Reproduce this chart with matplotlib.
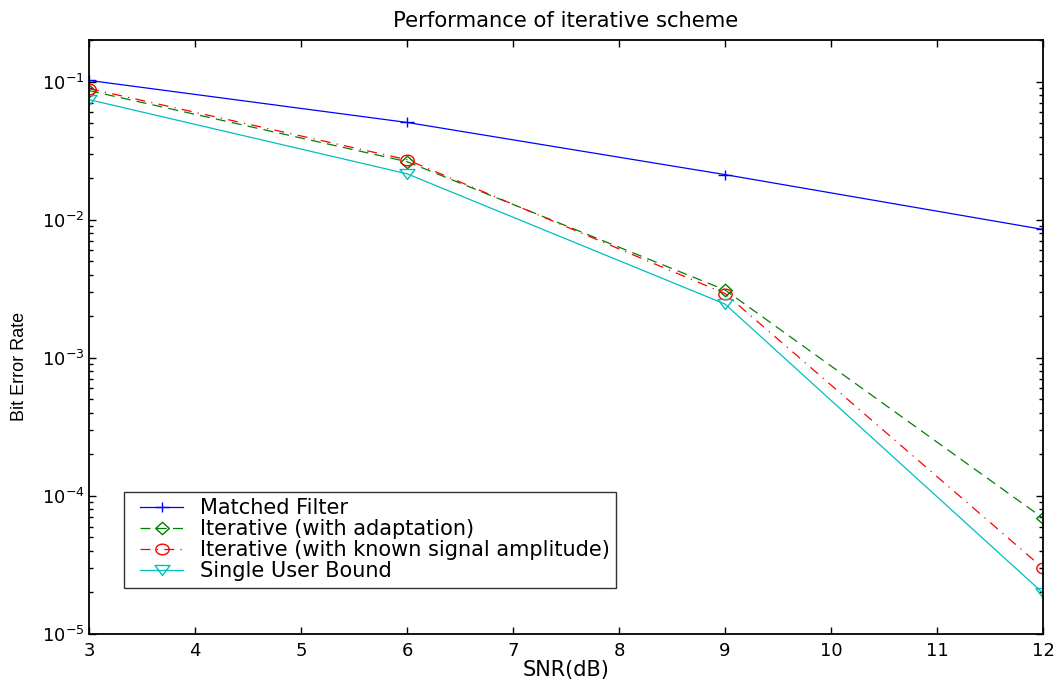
import matplotlib
matplotlib.use("Agg")
import matplotlib.pyplot as plt
from matplotlib.ticker import LogLocator, NullFormatter, FixedLocator
from matplotlib.path import Path
from matplotlib.transforms import Affine2D
from matplotlib.lines import Line2D
from matplotlib.legend_handler import HandlerLine2D

plt.rcParams['font.family'] = ['DejaVu Sans']

snr = [3, 6, 9, 12]
matched_filter = [0.102, 0.0506, 0.0212, 0.0085]
iter_adapt = [0.086, 0.0263, 0.0031, 6.9e-5]
iter_known = [0.089, 0.0272, 0.00292, 3.0e-5]
single_user = [0.074, 0.0215, 0.00245, 1.98e-5]
labels = ["Matched Filter", "Iterative (with adaptation)",
          "Iterative (with known signal amplitude)", "Single User Bound"]

# slightly wide marker shapes (the reference is stretched horizontally)
plus_m = Path([(-1.3, 0), (1.3, 0), (0, -1), (0, 1)],
              [Path.MOVETO, Path.LINETO, Path.MOVETO, Path.LINETO])
circ_m = Path.unit_circle().transformed(Affine2D().scale(1.25, 1.0))
diam_m = Path([(-1.1, 0), (0, 1), (1.1, 0), (0, -1), (-1.1, 0)],
              [Path.MOVETO, Path.LINETO, Path.LINETO, Path.LINETO, Path.CLOSEPOLY])
tri_m = Path([(-1.5, 1), (1.5, 1), (0, -1), (-1.5, 1)],
             [Path.MOVETO, Path.LINETO, Path.LINETO, Path.CLOSEPOLY])

fig = plt.figure(figsize=(10.63, 6.88), dpi=100)
ax = fig.add_axes([89/1063, 1-634/688, (1043-89)/1063, (634-40)/688])

lw = 0.9
ax.semilogy(snr, matched_filter, '-', marker=plus_m, color=(0, 0, 1), lw=lw, ms=9.4,
            mfc='none', mew=1.0, label=labels[0])
ax.semilogy(snr, iter_adapt, '--', marker=diam_m, color=(0, 0.5, 0), lw=lw, ms=9.8,
            mfc='none', mew=1.0, label=labels[1], dashes=(8, 5))
ax.semilogy(snr, iter_known, '-.', marker=circ_m, color=(1, 0, 0), lw=lw, ms=9.6,
            mfc='none', mew=1.0, label=labels[2], dashes=(8, 5, 1, 5))
ax.semilogy(snr, single_user, '-', marker=tri_m, color=(0, 0.75, 0.75), lw=lw, ms=10.8,
            mfc='none', mew=1.0, label=labels[3])

ax.set_xlim(3, 12)
ax.set_ylim(1e-5, 0.2)
ax.xaxis.set_major_locator(FixedLocator(list(range(3, 13))))
ax.yaxis.set_major_locator(LogLocator(base=10, numticks=10))
ax.yaxis.set_minor_locator(LogLocator(base=10, subs=range(2, 10), numticks=20))
ax.yaxis.set_minor_formatter(NullFormatter())
ax.tick_params(which='both', direction='in', top=True, right=True, labelsize=13)
ax.tick_params(axis='x', pad=5.5)
ax.tick_params(axis='y', pad=3)
ax.tick_params(which='major', length=5, width=1.0)
ax.tick_params(which='minor', length=3, width=1.0)
for s in ax.spines.values():
    s.set_linewidth(1.3)

ax.set_title("Performance of iterative scheme", fontsize=15.2, pad=9.5)
ax.set_xlabel("SNR(dB)", fontsize=15, labelpad=0)
ax.set_ylabel("Bit Error Rate", fontsize=13, family=['Liberation Sans'])
ax.yaxis.set_label_coords(-0.064, 0.45)

leg = ax.legend(loc='upper left', bbox_to_anchor=(124/1063, 1-492/688),
                bbox_transform=fig.transFigure, fontsize=15,
                frameon=True, fancybox=False, edgecolor='black', borderpad=0.3,
                labelspacing=0.05, handlelength=2.54, handletextpad=0.82,
                borderaxespad=0,
                handler_map={Line2D: HandlerLine2D(xpad=0.48)})
leg.get_frame().set_linewidth(1.0)

fig.savefig("out.png", dpi=100)
